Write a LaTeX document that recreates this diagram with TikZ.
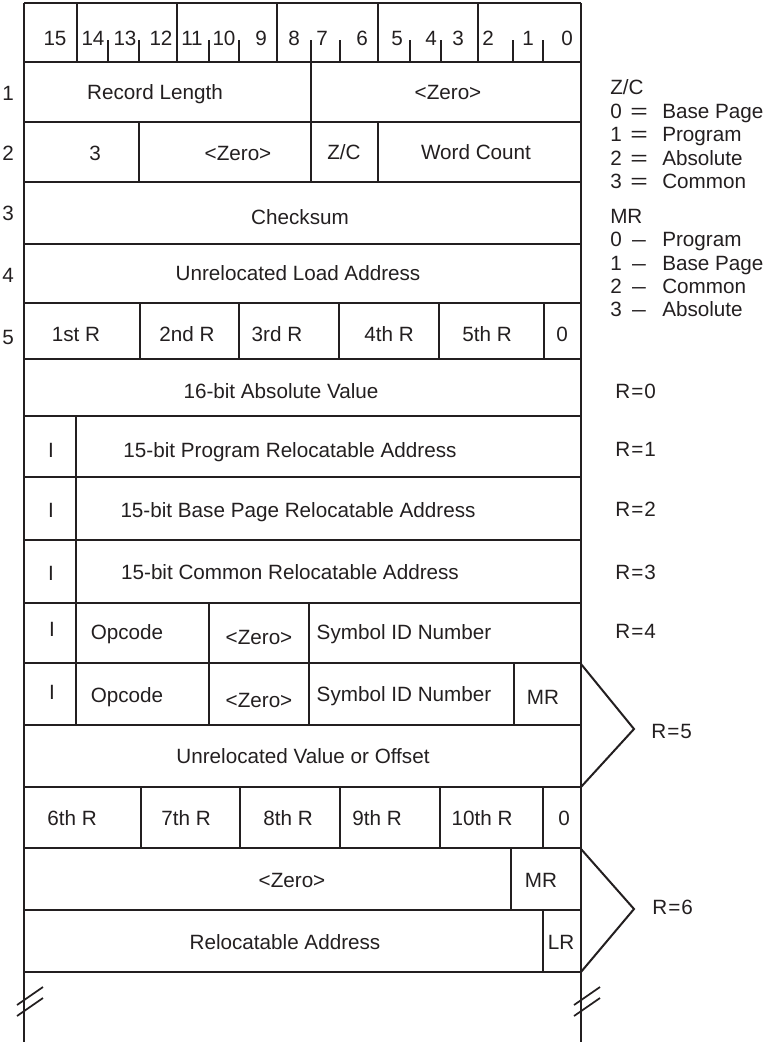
\documentclass[tikz,border=0pt]{standalone}
\usepackage{graphicx}
\usepackage{fontspec}
\setmainfont{Liberation Sans}
\definecolor{ink}{HTML}{231F20}
\newcommand{\wideeq}{\scalebox{1.45}[1]{=}}
\newcommand{\widedash}{\scalebox{1.2}[1]{–}}
\newcommand{\rtype}[1]{R\kern0.8pt=\kern0.8pt#1}
\begin{document}
\begin{tikzpicture}[x=0.75pt,y=-0.75pt,
  outer/.style={draw=ink, line width=2pt},
  hrule/.style={draw=ink, line width=1.7pt},
  vrule/.style={draw=ink, line width=1.3pt},
  chev/.style={draw=ink, line width=1.5pt, line join=miter},
  txt/.style={text=ink, font=\fontsize{15.5}{18}\selectfont, inner sep=0pt,
              text height=11.1pt, text depth=0pt, anchor=center},
  lft/.style={txt, anchor=west}]
\useasboundingbox (0,0) rectangle (768,1042);

% horizontal rules of the record layout
\foreach \y in {62,122,182,244,303,359,416,477,540,603,663,725,787,848,910,972}
  \draw[hrule] (24,\y) -- (581,\y);
\draw[outer] (24,3) -- (581,3);

% outer sides, running past the last word
\draw[outer] (24,3) -- (24,1042);
\draw[outer] (581,3) -- (581,1042);

% bit header: octal group separators and bit ticks
\foreach \x in {77,177,277,378,478}
  \draw[vrule] (\x,3) -- (\x,62);
\foreach \x in {108,139,209,239,311,340,410,441,513,543}
  \draw[vrule] (\x,40) -- (\x,62);

% field separators inside each word
\foreach \x/\a/\b in {
  311/62/122,
  139/122/182, 311/122/182, 378/122/182,
  140/303/359, 239/303/359, 339/303/359, 439/303/359, 544/303/359,
  76/416/477, 76/477/540, 76/540/603,
  76/603/663, 209/603/663, 309/603/663,
  76/663/725, 209/663/725, 309/663/725, 514/663/725,
  141/787/848, 240/787/848, 340/787/848, 440/787/848, 543/787/848,
  511/848/910,
  543/910/972}
  \draw[vrule] (\x,\a) -- (\x,\b);

% brackets grouping the multi-word entries
\draw[chev] (581,664) -- (634,729) -- (581,787);
\draw[chev] (581,849) -- (634,909) -- (581,972);

% break marks on both sides
\foreach \x in {24,581} {
  \draw[vrule] (\x-7,1005) -- (\x+19,987);
  \draw[vrule] (\x-7,1016) -- (\x+19,998);
}

% bit numbers
\foreach \x/\b in {55/15,93/14,125/13,161/12,192/11,224/10,261/9,294/8,
    322/7,362/6,397/5,431/4,458/3,488/2,528/1,567/0}
  \node[txt] (bit\b) at (\x,38) {\b};

% word numbers
\foreach \y/\n in {93/1,153/2,213/3,275/4,337/5}
  \node[txt] (word\n) at (8,\y) {\n};

% words 1 and 2
\node[txt] (reclen) at (155,92) {Record Length};
\node[txt] (zeroA) at (448,92) {<Zero>};
\node[txt] (three) at (95,153) {3};
\node[txt] (zeroB) at (238,153) {<Zero>};
\node[txt] (zc) at (344,152) {Z/C};
\node[txt] (wcount) at (476,152) {Word Count};
% words 3 to 5
\node[txt] (cksum) at (300,217) {Checksum};
\node[txt] (ula) at (298,273) {Unrelocated Load Address};
\node[txt] (r1st) at (76,334) {1st R};
\node[txt] (r2nd) at (187,334) {2nd R};
\node[txt] (r3rd) at (277,334) {3rd R};
\node[txt] (r4th) at (389,334) {4th R};
\node[txt] (r5th) at (487,334) {5th R};
\node[txt] (zbit1) at (562,334) {0};

% relocation entries
\node[txt] (abs16) at (281,391) {16-bit Absolute Value};
\node[txt] (iA) at (51,450) {I};
\node[txt] (prog15) at (290,450) {15-bit Program Relocatable Address};
\node[txt] (iB) at (51,510) {I};
\node[txt] (base15) at (298,510) {15-bit Base Page Relocatable Address};
\node[txt] (iC) at (51,573) {I};
\node[txt] (comm15) at (290,572) {15-bit Common Relocatable Address};
\node[txt] (iD) at (52,629) {I};
\node[txt] (opA) at (127,632) {Opcode};
\node[txt] (zeroC) at (259,637) {<Zero>};
\node[txt] (symA) at (404,632) {Symbol ID Number};
\node[txt] (iE) at (52,692) {I};
\node[txt] (opB) at (127,695) {Opcode};
\node[txt] (zeroD) at (259,700) {<Zero>};
\node[txt] (symB) at (404,694) {Symbol ID Number};
\node[txt] (mrA) at (543,697) {MR};
\node[txt] (uvo) at (303,756) {Unrelocated Value or Offset};
\node[txt] (r6th) at (72,818) {6th R};
\node[txt] (r7th) at (186,818) {7th R};
\node[txt] (r8th) at (288,818) {8th R};
\node[txt] (r9th) at (377,818) {9th R};
\node[txt] (r10th) at (482,818) {10th R};
\node[txt] (zbit2) at (564,818) {0};
\node[txt] (zeroE) at (292,880) {<Zero>};
\node[txt] (mrB) at (541,880) {MR};
\node[txt] (reladdr) at (285,942) {Relocatable Address};
\node[txt] (lr) at (561,942) {LR};

% relocation type labels
\foreach \y/\n in {391/0,449/1,509/2,572/3,631/4}
  \node[lft] (rtype\n) at (615,\y) {\rtype{\n}};
\node[lft] (rtype5) at (651,731) {\rtype{5}};
\node[lft] (rtype6) at (652,907) {\rtype{6}};

% legend for Z/C and MR
\node[lft] (zchead) at (610,87) {Z/C};
\foreach \y/\n/\w in {111/0/Base Page,134/1/Program,158/2/Absolute,181/3/Common} {
  \node[lft] (zcn\n) at (610,\y) {\n};
  \node[txt] (zceq\n) at (639,\y) {\wideeq};
  \node[lft] (zcw\n) at (662,\y) {\w};
}
\node[lft] (mrhead) at (610,216) {MR};
\foreach \y/\n/\w in {239/0/Program,263/1/Base Page,286/2/Common,309/3/Absolute} {
  \node[lft] (mrn\n) at (610,\y) {\n};
  \node[txt] (mreq\n) at (639,\y) {\widedash};
  \node[lft] (mrw\n) at (662,\y) {\w};
}
\end{tikzpicture}
\end{document}
